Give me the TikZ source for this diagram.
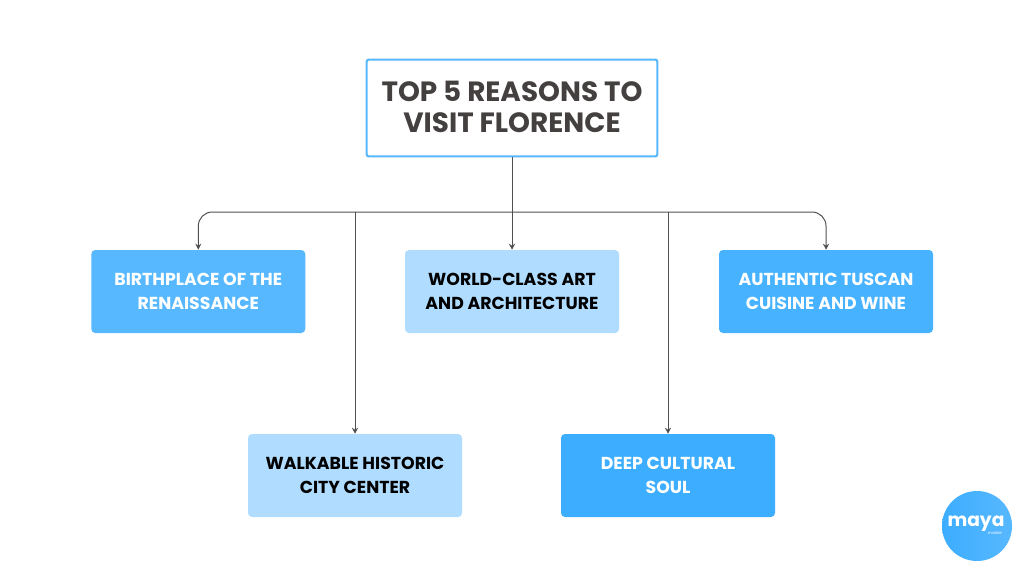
\documentclass[tikz,border=0pt]{standalone}
\usepackage{fontspec}
\setmainfont{Poppins}
\usetikzlibrary{calc, positioning, arrows.meta}
\definecolor{inktext}{HTML}{444040}
\definecolor{linkgray}{HTML}{505050}
\definecolor{frameblue}{HTML}{57B8FF}
\definecolor{midblue}{HTML}{57B8FF}
\definecolor{paleblue}{HTML}{B0DDFF}
\definecolor{deepblue}{HTML}{3DADFF}
\definecolor{trueblue}{HTML}{47B2FF}
\tikzset{
	reason/.style={minimum width=160.5pt, minimum height=62.25pt, inner sep=0pt, rounded corners=3pt, align=center, font=\fontsize{13}{18}\selectfont\bfseries},
	link/.style={draw=linkgray, line width=0.75pt},
	linkto/.style={link, -{Stealth[length=4.5pt,width=4.5pt]}},
}
\begin{document}
\begin{tikzpicture}[x=0.75pt, y=-0.75pt]
	\useasboundingbox[fill=white] (0,0) rectangle (1024,576);

	% nodes - title and reasons %
	\node[draw=frameblue, line width=1.6pt, rounded corners=1.5pt, minimum width=218pt, minimum height=72.5pt, inner sep=0pt, align=center, text=inktext, font=\fontsize{20.9}{23.5}\selectfont\bfseries] (root) at (512,108) {\raisebox{1.8pt}{TOP 5 REASONS TO}\\\raisebox{1.8pt}{VISIT FLORENCE}};
	\node[reason, fill=midblue, text=white] (birth) at (198.3,291.5) {BIRTHPLACE OF THE\\RENAISSANCE};
	\node[reason, fill=paleblue, text=black] (art) at (512,291.5) {WORLD-CLASS ART\\AND ARCHITECTURE};
	\node[reason, fill=trueblue, text=white] (food) at (826,291.5) {AUTHENTIC TUSCAN\\CUISINE AND WINE};
	\node[reason, fill=paleblue, text=black] (walk) at (355,475.5) {WALKABLE HISTORIC\\CITY CENTER};
	\node[reason, fill=deepblue, text=white] (soul) at (668,475.5) {DEEP CULTURAL\\SOUL};
	\coordinate (bus) at (512,212);

	% edges %
	\draw[link] (root.south) -- (bus);
	\draw[linkto, rounded corners=10.5pt] (bus) -| (birth.north);
	\draw[linkto, rounded corners=10.5pt] (bus) -| (food.north);
	\draw[linkto] (bus) -- (art.north);
	\draw[linkto] (walk.north |- bus) -- (walk.north);
	\draw[linkto] (soul.north |- bus) -- (soul.north);

	% logo %
	\node[circle, minimum size=52.5pt, inner sep=0pt, left color=deepblue, right color=frameblue] (badge) at (977,526) {};
	\node[text=white, inner sep=0pt, font=\fontsize{14}{14}\selectfont\bfseries] (maya) at (976,524) {maya};
	\node[text=white, inner sep=0pt, font=\fontsize{3}{3}\selectfont, anchor=north east] (mobile) at (1002,531.5) {mobile};
\end{tikzpicture}
\end{document}
